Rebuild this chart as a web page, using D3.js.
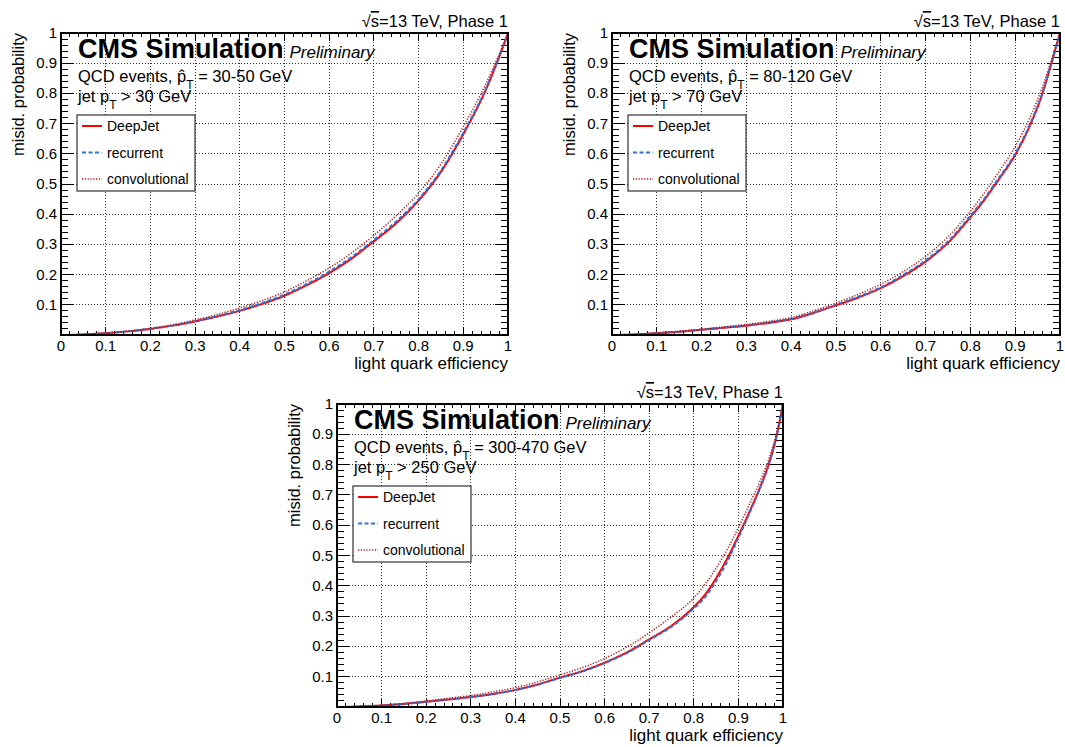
<!DOCTYPE html>
<html><head><meta charset="utf-8">
<script src="https://cdn.jsdelivr.net/npm/d3@7"></script>
<style>
body{margin:0;background:#fff}
svg{display:block}
text{font-family:"Liberation Sans",Arial,Helvetica,sans-serif;fill:#000}
</style>
</head><body>
<svg id="c" width="1065" height="747"></svg>
<script>
// ---------------- data ----------------
const xTickLabels = ["0","0.1","0.2","0.3","0.4","0.5","0.6","0.7","0.8","0.9","1"];
const yTickLabels = ["0.1","0.2","0.3","0.4","0.5","0.6","0.7","0.8","0.9","1"];
const seriesNames = ["DeepJet","recurrent","convolutional"];
const ptHatRanges = ["30-50","80-120","300-470"];
const jetPtCuts = ["30","70","250"];

// panel 1: QCD 30-50 GeV
const eff1 = [0.02,0.05,0.1,0.15,0.2,0.25,0.3,0.35,0.4,0.45,0.5,0.55,0.6,0.65,0.7,0.75,0.8,0.85,0.9,0.95,0.975,1.0];
const deepjet1 = [0.0,0.002,0.006,0.012,0.02,0.031,0.045,0.061,0.08,0.103,0.13,0.165,0.205,0.253,0.31,0.37,0.445,0.54,0.665,0.81,0.9,1.0];
const recurrent1 = [0.0,0.002,0.006,0.012,0.021,0.032,0.046,0.063,0.083,0.106,0.134,0.169,0.21,0.258,0.315,0.376,0.45,0.545,0.67,0.814,0.903,1.0];
const convolutional1 = [0.0,0.002,0.007,0.013,0.022,0.034,0.05,0.068,0.09,0.114,0.143,0.18,0.222,0.272,0.33,0.395,0.47,0.566,0.69,0.83,0.912,1.0];

// panel 2: QCD 80-120 GeV
const eff2 = [0.02,0.05,0.1,0.15,0.2,0.25,0.3,0.35,0.4,0.45,0.5,0.55,0.6,0.65,0.7,0.75,0.8,0.83,0.86,0.9,0.935,0.961,0.981,1.0];
const deepjet2 = [0.0,0.002,0.006,0.011,0.017,0.024,0.031,0.04,0.052,0.073,0.098,0.124,0.155,0.195,0.243,0.305,0.39,0.445,0.508,0.596,0.7,0.8,0.9,1.0];
const recurrent2 = [0.0,0.002,0.006,0.011,0.018,0.025,0.032,0.042,0.054,0.075,0.1,0.127,0.158,0.199,0.247,0.31,0.395,0.45,0.513,0.601,0.705,0.803,0.902,1.0];
const convolutional2 = [0.0,0.002,0.007,0.012,0.019,0.027,0.035,0.045,0.058,0.08,0.106,0.135,0.168,0.21,0.26,0.325,0.41,0.468,0.533,0.624,0.727,0.822,0.912,1.0];

// panel 3: QCD 300-470 GeV
const eff3 = [0.02,0.05,0.1,0.15,0.2,0.25,0.3,0.35,0.4,0.45,0.5,0.55,0.6,0.65,0.7,0.75,0.8,0.825,0.85,0.875,0.9,0.925,0.95,0.97,0.985,1.0];
const deepjet3 = [0.0,0.002,0.005,0.01,0.017,0.025,0.033,0.043,0.056,0.074,0.097,0.118,0.146,0.18,0.223,0.268,0.33,0.37,0.425,0.49,0.565,0.645,0.73,0.81,0.89,1.0];
const recurrent3 = [0.0,0.002,0.005,0.01,0.017,0.025,0.033,0.043,0.056,0.074,0.096,0.117,0.145,0.178,0.221,0.265,0.325,0.362,0.415,0.48,0.558,0.64,0.727,0.808,0.89,1.0];
const convolutional3 = [0.0,0.002,0.006,0.012,0.02,0.029,0.038,0.05,0.064,0.083,0.106,0.13,0.16,0.198,0.245,0.298,0.36,0.405,0.458,0.52,0.592,0.67,0.75,0.825,0.9,1.0];

// ---------------- layout / style ----------------
const panels = [
  {L:61, T:33, R:508, B:335, eff:eff1, ys:[deepjet1,recurrent1,convolutional1]},
  {L:612, T:33, R:1060, B:335, eff:eff2, ys:[deepjet2,recurrent2,convolutional2]},
  {L:337, T:404, R:783, B:707, eff:eff3, ys:[deepjet3,recurrent3,convolutional3]}
];
const styles = [
  {color:"#ff0000", width:2, dash:null},
  {color:"#2f74d8", width:2, dash:"4,2.5"},
  {color:"#b0191e", width:1.5, dash:"1.2,1.6"}
];

const svg = d3.select("#c");

panels.forEach((p, pi) => {
  const g = svg.append("g");
  const x = d3.scaleLinear().domain([0,1]).range([p.L, p.R]);
  const y = d3.scaleLinear().domain([0,1]).range([p.B, p.T]);
  const xMajor = xTickLabels.map(Number);
  const yMajor = yTickLabels.map(Number);
  const minor = d3.range(0, 1.0001, 0.02);

  const clipId = "clip" + pi;
  svg.append("clipPath").attr("id", clipId).append("rect")
    .attr("x", p.L).attr("y", p.T).attr("width", p.R - p.L).attr("height", p.B - p.T);

  // grid
  g.append("g").selectAll("line").data(xMajor.filter(v => v > 0 && v < 1)).join("line")
    .attr("x1", d => x(d)).attr("x2", d => x(d)).attr("y1", p.T).attr("y2", p.B)
    .attr("stroke", "#333").attr("stroke-width", 1).attr("stroke-dasharray", "1,2")
    .attr("shape-rendering", "crispEdges");
  g.append("g").selectAll("line").data(yMajor.filter(v => v > 0 && v < 1)).join("line")
    .attr("y1", d => y(d)).attr("y2", d => y(d)).attr("x1", p.L).attr("x2", p.R)
    .attr("stroke", "#333").attr("stroke-width", 1).attr("stroke-dasharray", "1,2")
    .attr("shape-rendering", "crispEdges");

  // ticks (inside, all four sides)
  const isMajor = v => Math.abs(v*10 - Math.round(v*10)) < 1e-6;
  const tk = g.append("g").attr("stroke", "#000").attr("stroke-width", 1).attr("shape-rendering", "crispEdges");
  minor.forEach(v => {
    const mj = isMajor(v);
    const lx = mj ? 8 : 4, ly = mj ? 13 : 7;
    tk.append("line").attr("x1", x(v)).attr("x2", x(v)).attr("y1", p.B).attr("y2", p.B - lx);
    tk.append("line").attr("x1", x(v)).attr("x2", x(v)).attr("y1", p.T).attr("y2", p.T + lx);
    tk.append("line").attr("y1", y(v)).attr("y2", y(v)).attr("x1", p.L).attr("x2", p.L + ly);
    tk.append("line").attr("y1", y(v)).attr("y2", y(v)).attr("x1", p.R).attr("x2", p.R - ly);
  });

  // curves
  const line = d3.line().x(d => x(d[0])).y(d => y(d[1])).curve(d3.curveMonotoneX);
  const cg = g.append("g").attr("clip-path", `url(#${clipId})`);
  p.ys.forEach((ys, si) => {
    const st = styles[si];
    cg.append("path").datum(p.eff.map((e, i) => [e, ys[i]]))
      .attr("d", line).attr("fill", "none")
      .attr("stroke", st.color).attr("stroke-width", st.width)
      .attr("stroke-dasharray", st.dash);
  });

  // frame
  g.append("rect").attr("x", p.L).attr("y", p.T).attr("width", p.R - p.L).attr("height", p.B - p.T)
    .attr("fill", "none").attr("stroke", "#000").attr("stroke-width", 2);

  // tick labels
  g.append("g").selectAll("text").data(xTickLabels).join("text")
    .attr("x", d => x(+d)).attr("y", p.B + 16).attr("text-anchor", "middle")
    .attr("font-size", 15).text(d => d);
  g.append("g").selectAll("text").data(yTickLabels).join("text")
    .attr("x", p.L - 4).attr("y", d => y(+d) + 5).attr("text-anchor", "end")
    .attr("font-size", 15).text(d => d);

  // axis titles
  g.append("text").attr("x", p.R).attr("y", p.B + 34).attr("text-anchor", "end")
    .attr("font-size", 17).text("light quark efficiency");
  g.append("text").attr("transform", `translate(${p.L - 37},${p.T}) rotate(-90)`)
    .attr("text-anchor", "end").attr("font-size", 16.5).text("misid. probability");

  // energy label
  const en = g.append("text").attr("x", p.R).attr("y", p.T - 6).attr("text-anchor", "end").attr("font-size", 16.5);
  en.append("tspan").text("√");
  en.append("tspan").style("text-decoration", "overline").text("s");
  en.append("tspan").text("=13 TeV, Phase 1");

  // CMS label
  const cms = g.append("text").attr("x", p.L + 17).attr("y", p.T + 25)
    .attr("font-size", 27).attr("font-weight", "bold").text("CMS Simulation");
  const cw = cms.node().getComputedTextLength();
  g.append("text").attr("x", p.L + 17 + cw + 6).attr("y", p.T + 25)
    .attr("font-size", 17).attr("font-style", "italic").text("Preliminary");

  // QCD label
  const q = g.append("text").attr("x", p.L + 17).attr("y", p.T + 49).attr("font-size", 16.5);
  q.append("tspan").text("QCD events, p\u0302");
  q.append("tspan").attr("dy", 7).attr("font-size", 12).text("T");
  q.append("tspan").attr("dy", -7).text(" = " + ptHatRanges[pi] + " GeV");
  const j = g.append("text").attr("x", p.L + 17).attr("y", p.T + 69).attr("font-size", 16.5);
  j.append("tspan").text("jet p");
  j.append("tspan").attr("dy", 7).attr("font-size", 12).text("T");
  j.append("tspan").attr("dy", -7).text(" > " + jetPtCuts[pi] + " GeV");

  // legend
  const lg = g.append("g");
  lg.append("rect").attr("x", p.L + 16).attr("y", p.T + 82).attr("width", 118).attr("height", 76)
    .attr("fill", "#fff").attr("stroke", "#333").attr("stroke-width", 1.2);
  seriesNames.forEach((nm, si) => {
    const st = styles[si];
    const ry = p.T + 93 + si * 26.5;
    lg.append("line").attr("x1", p.L + 21).attr("x2", p.L + 41).attr("y1", ry).attr("y2", ry)
      .attr("stroke", st.color).attr("stroke-width", st.width).attr("stroke-dasharray", st.dash);
    lg.append("text").attr("x", p.L + 46).attr("y", ry + 5).attr("font-size", 14).text(nm);
  });
});
</script>
</body></html>
